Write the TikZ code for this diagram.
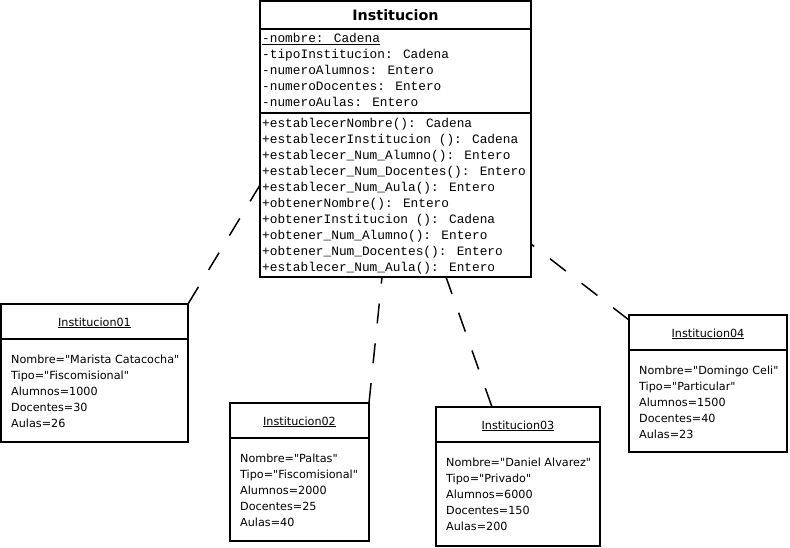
\documentclass[tikz,border=0pt]{standalone}
\usepackage{fontspec}
\newfontfamily\monof{Liberation Mono}
\newfontfamily\objf{DejaVu Sans}
\newfontfamily\titlef{DejaVu Sans}
\begin{document}
\begin{tikzpicture}[x=1pt,y=-1pt,
  box/.style={draw, line width=1.5pt, inner sep=0pt, outer sep=0pt, anchor=north west},
  mono/.style={font=\monof\fontsize{12.8}{16}\selectfont, inner sep=0pt, anchor=base west},
  objt/.style={font=\objf\fontsize{11.2}{16}\selectfont, inner sep=0pt, anchor=base west},
  objtitle/.style={font=\objf\fontsize{11.2}{16}\selectfont, inner sep=0pt, anchor=base},
  clstitle/.style={font=\titlef\bfseries\fontsize{14.3}{16}\selectfont, inner sep=0pt, anchor=base},
  conn/.style={line width=1.5pt, dash pattern=on 20pt off 20pt},
  sep/.style={line width=1.5pt}]
\useasboundingbox (0,0) rectangle (790,547);

% class box
\node[box, minimum width=271pt, minimum height=276pt] (cls) at (260,1) {};
\draw[sep] (260,29) -- (531,29);
\draw[sep] (260,113) -- (531,113);
\node[clstitle] (clst) at (395.5,20.7) {Institucion};
\node[mono] (at1) at (262,42.5) {\underline{-nombre: Cadena}};
\foreach \t [count=\i from 2] in {-tipoInstitucion: Cadena, -numeroAlumnos: Entero, -numeroDocentes: Entero, -numeroAulas: Entero}
  \node[mono] (at\i) at (262,{42.5+16*(\i-1)}) {\t};
\foreach \t [count=\i] in {+establecerNombre(): Cadena, +establecerInstitucion (): Cadena, +establecer\_Num\_Alumno(): Entero, +establecer\_Num\_Docentes(): Entero, +establecer\_Num\_Aula(): Entero, +obtenerNombre(): Entero, +obtenerInstitucion (): Cadena, +obtener\_Num\_Alumno(): Entero, +obtener\_Num\_Docentes(): Entero, +establecer\_Num\_Aula(): Entero}
  \node[mono] (me\i) at (262,{127+16*(\i-1)}) {\t};

% object 1
\node[box, minimum width=187pt, minimum height=138pt] (o1) at (1,304) {};
\draw[sep] (1,339) -- (188,339);
\node[objtitle] (o1t) at (94.5,326) {\underline{Institucion01}};
\node[objt] (o1a) at (11,363) {Nombre="Marista Catacocha"};
\node[objt] (o1b) at (11,379) {Tipo="Fiscomisional"};
\node[objt] (o1c) at (11,395) {Alumnos=1000};
\node[objt] (o1d) at (11,411) {Docentes=30};
\node[objt] (o1e) at (11,427) {Aulas=26};

% object 2
\node[box, minimum width=139pt, minimum height=138pt] (o2) at (230,403) {};
\draw[sep] (230,438) -- (369,438);
\node[objtitle] (o2t) at (299.5,425) {\underline{Institucion02}};
\node[objt] (o2a) at (240,462) {Nombre="Paltas"};
\node[objt] (o2b) at (240,478) {Tipo="Fiscomisional"};
\node[objt] (o2c) at (240,494) {Alumnos=2000};
\node[objt] (o2d) at (240,510) {Docentes=25};
\node[objt] (o2e) at (240,526) {Aulas=40};

% object 3
\node[box, minimum width=164pt, minimum height=139pt] (o3) at (436,407) {};
\draw[sep] (436,442) -- (600,442);
\node[objtitle] (o3t) at (518,429) {\underline{Institucion03}};
\node[objt] (o3a) at (446,466) {Nombre="Daniel Alvarez"};
\node[objt] (o3b) at (446,482) {Tipo="Privado"};
\node[objt] (o3c) at (446,498) {Alumnos=6000};
\node[objt] (o3d) at (446,514) {Docentes=150};
\node[objt] (o3e) at (446,530) {Aulas=200};

% object 4
\node[box, minimum width=158pt, minimum height=137pt] (o4) at (629,315) {};
\draw[sep] (629,350) -- (787,350);
\node[objtitle] (o4t) at (708,337) {\underline{Institucion04}};
\node[objt] (o4a) at (639,374) {Nombre="Domingo Celi"};
\node[objt] (o4b) at (639,390) {Tipo="Particular"};
\node[objt] (o4c) at (639,406) {Alumnos=1500};
\node[objt] (o4d) at (639,422) {Docentes=40};
\node[objt] (o4e) at (639,438) {Aulas=23};

% connectors
\coordinate (c1) at (260,185);
\coordinate (c2) at (382,277);
\coordinate (c3) at (446,277);
\coordinate (c4) at (531,244);
\coordinate (p3) at (492,407);
\coordinate (p4) at (629,320);
\draw[conn] (o1.north east) -- (c1);
\draw[conn] (o2.north east) -- (c2);
\draw[conn] (p3) -- (c3);
\draw[conn] (p4) -- (c4);
\end{tikzpicture}
\end{document}
